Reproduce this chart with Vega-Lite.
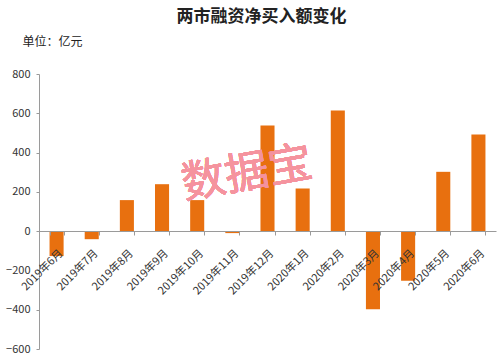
{
  "$schema": "https://vega.github.io/schema/vega-lite/v6.json",
  "width": 457,
  "height": 275,
  "autosize": "none",
  "padding": {"left": 39, "top": 74, "right": 4, "bottom": 7},
  "background": "white",
  "config": {
    "view": {"stroke": null},
    "font": "Noto Sans CJK SC",
    "axis": {"labelOverlap": false}
  },
  "title": {
    "text": "两市融资净买入额变化",
    "anchor": "middle",
    "font": "Noto Sans CJK SC",
    "fontSize": 17,
    "fontWeight": "bold",
    "color": "#222222",
    "offset": 9,
    "dx": -6
  },
  "data": {
    "values": [
      {"month": "2019年6月", "value": -127},
      {"month": "2019年7月", "value": -41},
      {"month": "2019年8月", "value": 158},
      {"month": "2019年9月", "value": 239},
      {"month": "2019年10月", "value": 158},
      {"month": "2019年11月", "value": -10},
      {"month": "2019年12月", "value": 538},
      {"month": "2020年1月", "value": 217},
      {"month": "2020年2月", "value": 614},
      {"month": "2020年3月", "value": -398},
      {"month": "2020年4月", "value": -253},
      {"month": "2020年5月", "value": 302},
      {"month": "2020年6月", "value": 492}
    ]
  },
  "encoding": {
    "x": {
      "field": "month",
      "type": "nominal",
      "sort": null,
      "scale": {"paddingInner": 0.6, "paddingOuter": 0.3},
      "axis": {
        "title": null,
        "offset": -118,
        "labelAngle": -45,
        "labelAlign": "right",
        "labelBaseline": "top",
        "labelFontSize": 11,
        "labelColor": "#333333",
        "labelPadding": 12,
        "labelOverlap": false,
        "domainColor": "#9a9a9a",
        "tickColor": "#9a9a9a",
        "tickSize": 4,
        "tickBand": "extent",
        "zindex": 1
      }
    },
    "y": {
      "field": "value",
      "type": "quantitative",
      "scale": {"domain": [-600, 800], "nice": false},
      "axis": {
        "title": "单位：亿元",
        "titleAngle": 0,
        "titleAlign": "left",
        "titleBaseline": "alphabetic",
        "titleX": -17,
        "titleY": -29,
        "titleFontSize": 12,
        "titleFontWeight": "normal",
        "titleColor": "#222222",
        "values": [-600, -400, -200, 0, 200, 400, 600, 800],
        "grid": false,
        "labelOverlap": false,
        "labelFlush": false,
        "labelFontSize": 11,
        "labelColor": "#333333",
        "labelPadding": 6,
        "domainColor": "#9a9a9a",
        "tickColor": "#9a9a9a",
        "tickSize": 3
      }
    }
  },
  "layer": [
    {
      "mark": {"type": "bar", "color": "#E8700F"}
    },
    {
      "mark": {
        "type": "text",
        "text": "数据宝",
        "fontSize": 44,
        "color": "#F5939E",
        "opacity": 0.8,
        "angle": -10,
        "dx": 15,
        "align": "center",
        "baseline": "middle"
      },
      "encoding": {
        "x": {"datum": "2019年11月"},
        "y": {"datum": 275}
      }
    }
  ]
}
